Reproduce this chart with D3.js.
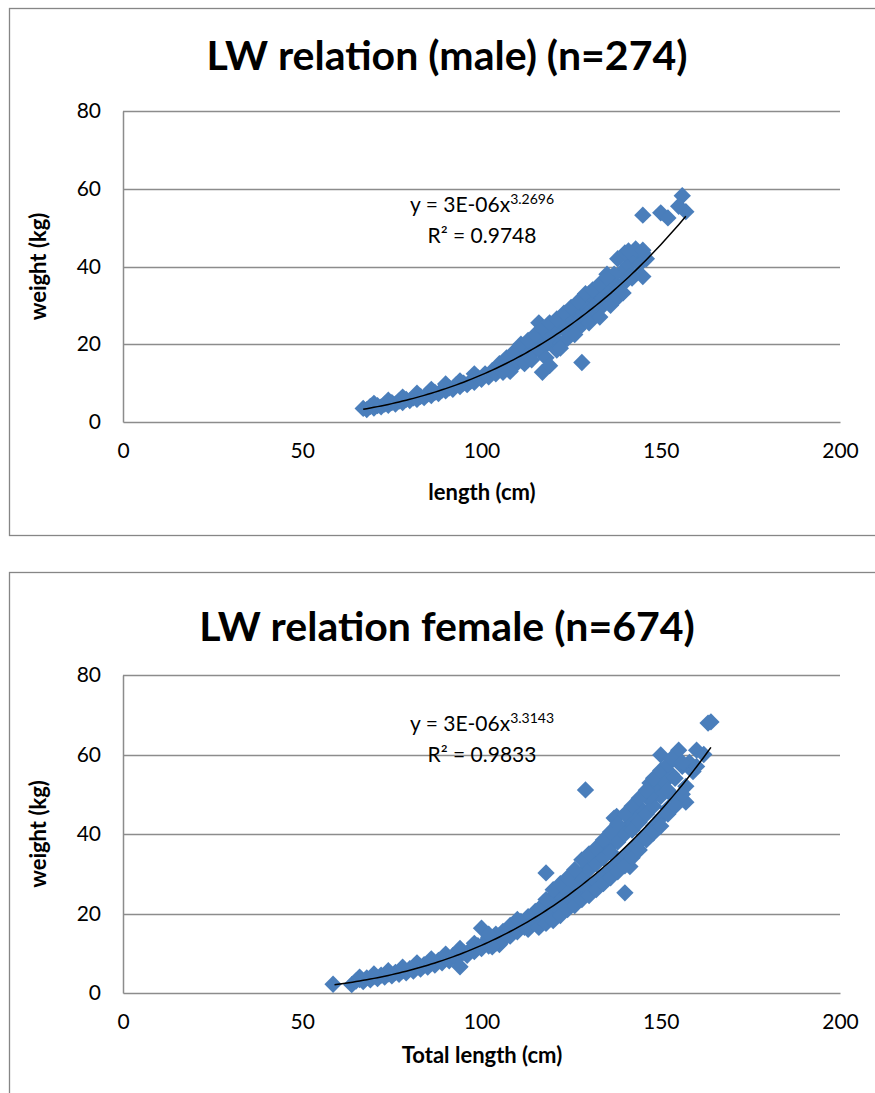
<!DOCTYPE html>
<html>
<head>
<meta charset="utf-8">
<script src="https://cdn.jsdelivr.net/npm/d3@7"></script>
<style>
  body { margin: 0; background: #fff; }
  svg { display: block; font-family: Lato, "Open Sans", sans-serif; }
</style>
</head>
<body>
<script>
// male data (length cm, weight kg)
const maleLength = [67, 68, 69, 70, 71, 72, 73, 74, 75, 76, 77, 78, 79, 80, 81, 82, 83, 84, 85, 86,
  87, 88, 89, 90, 91, 92, 93, 94, 95, 96, 97, 98, 99, 100, 101, 102, 103, 104, 105, 106,
  107, 108, 109, 110, 111, 112, 113, 114, 115, 116, 117, 118, 119, 120, 121, 122, 123, 124, 125, 126,
  127, 128, 129, 130, 131, 132, 133, 134, 135, 136, 137, 138, 139, 140, 141, 142, 143, 144, 145, 146,
  112, 116, 118, 120, 124, 128, 130, 132, 135, 137, 138, 140, 141, 143, 145,
  118, 121, 124, 127, 130, 133, 136, 138, 139.5, 142, 145,
  105, 107, 109, 111, 113, 115, 117, 119, 121, 123, 125, 127, 129, 131, 133, 135,
  108, 112, 114, 122, 126,
  70, 74, 78, 82, 86, 90, 94, 98,
  117, 119, 128, 145, 150, 152, 156, 157, 155];
const maleWeight = [3.5, 3.2, 4.0, 3.6, 4.2, 3.9, 4.6, 4.3, 5.0, 4.6, 5.4, 5.0, 5.8, 5.5, 6.2, 5.8, 6.6, 6.3, 7.2, 6.8,
  7.6, 7.3, 8.2, 8.0, 8.8, 8.4, 9.6, 9.1, 10.0, 9.6, 10.5, 10.2, 11.4, 11.0, 12.4, 11.6, 13.2, 12.4, 14.0, 12.8,
  15.2, 13.9, 17.0, 15.2, 18.6, 16.3, 19.2, 17.5, 20.2, 18.6, 21.3, 19.8, 22.5, 21.0, 23.6, 20.2, 25.0, 22.8, 26.4, 24.0,
  28.0, 25.5, 29.6, 27.0, 31.0, 28.5, 32.5, 30.0, 34.0, 31.8, 36.0, 34.0, 38.5, 36.0, 40.5, 38.0, 42.0, 40.5, 43.5, 42.0,
  19.0, 25.5, 23.0, 25.0, 28.0, 31.0, 33.0, 34.5, 38.0, 38.0, 42.0, 43.5, 44.0, 44.5, 44.2,
  16.5, 18.5, 21.5, 24.0, 25.5, 27.0, 30.0, 32.0, 33.2, 37.0, 37.4,
  15.0, 16.5, 18.0, 20.0, 21.0, 22.5, 24.0, 25.5, 26.5, 28.0, 29.5, 31.0, 33.0, 34.0, 35.5, 37.0,
  13.0, 15.0, 16.0, 19.0, 22.5,
  4.8, 5.6, 6.4, 7.4, 8.4, 9.8, 10.6, 12.4,
  12.8, 14.5, 15.3, 53.2, 53.8, 52.5, 58.2, 54.1, 55.5];

// female data (length cm, weight kg)
const femaleLength = [58.6, 63.8, 65, 66, 67, 68, 69, 70, 71, 72, 73, 74, 75, 76, 77, 78, 79, 80, 81, 82,
  83, 84, 85, 86, 87, 88, 89, 90, 91, 92, 93, 94, 95, 96, 97, 98, 99, 100, 100, 101,
  102, 103, 104, 105, 106, 107, 108, 109, 110, 111, 112, 113, 114, 115, 116, 117, 118, 118, 119, 120,
  121, 122, 123, 124, 125, 126, 127, 128, 129, 129, 130, 131, 132, 133, 134, 135, 136, 137, 137, 138,
  139, 140, 140, 141, 142, 143, 144, 145, 146, 147, 148, 149, 150, 150, 151, 152, 153, 154, 155, 156,
  157, 158, 159, 160, 163.2, 164,
  120, 122, 124, 126, 128, 130, 132, 134, 136, 138, 140, 142, 144, 146, 148, 150, 152, 154, 147, 147,
  137.7, 141.4, 147.9, 157, 160, 162, 108, 113, 115, 117, 119, 121, 123, 125, 127, 110, 106, 104, 102, 105, 103,
  116, 118, 120, 122, 124, 126, 128, 130, 132, 134, 136, 138, 140, 142, 144, 146, 148, 150, 152, 153, 156,
  116, 118, 120, 122, 124, 126, 128, 130, 132, 134, 136, 138, 140, 142, 144, 146, 148, 150, 152, 154, 156,
  66, 70, 74, 78, 82, 86, 90, 94, 98, 102];
const femaleWeight = [2.2, 2.1, 3.0, 3.4, 2.9, 3.8, 3.3, 4.2, 3.6, 4.5, 4.0, 4.8, 4.3, 5.2, 4.7, 5.6, 5.1, 6.1, 5.5, 6.6,
  6.0, 7.1, 6.5, 7.6, 7.0, 8.2, 7.6, 8.8, 8.1, 9.4, 8.7, 6.6, 10.2, 9.5, 11.0, 10.4, 11.9, 16.3, 11.2, 12.8,
  11.8, 13.6, 12.5, 14.5, 13.3, 15.6, 14.3, 16.8, 15.4, 18.0, 16.5, 19.2, 17.5, 20.5, 18.5, 22.0, 19.5, 30.2, 23.5, 20.5,
  25.0, 21.5, 26.5, 22.8, 28.0, 24.0, 29.5, 25.5, 31.0, 51.1, 26.5, 33.0, 28.0, 34.5, 29.5, 36.0, 31.0, 38.0, 44.0, 33.0,
  40.0, 34.5, 25.2, 42.0, 36.0, 44.0, 38.0, 46.0, 40.0, 48.5, 42.0, 51.0, 44.0, 59.9, 53.0, 46.5, 55.0, 49.0, 61.1, 57.0,
  52.0, 58.0, 55.7, 61.1, 67.9, 68.2,
  24.0, 23.5, 25.5, 27.5, 29.0, 31.0, 32.5, 34.0, 35.5, 38.0, 40.0, 41.0, 43.0, 45.0, 47.0, 49.5, 51.0, 54.0, 52.8, 49.5,
  44.4, 31.8, 40.2, 48.0, 57.0, 60.0, 17.0, 16.0, 18.0, 19.0, 20.0, 21.5, 22.0, 23.5, 25.0, 18.5, 15.5, 14.8, 14.0, 12.2, 11.6,
  21.0, 23.5, 26.0, 27.5, 29.0, 31.0, 33.5, 35.0, 36.5, 38.5, 40.5, 42.5, 45.0, 47.0, 49.0, 51.0, 54.0, 56.0, 57.5, 59.0, 58.0,
  16.5, 17.5, 18.2, 19.5, 21.0, 22.0, 23.5, 24.5, 26.0, 27.5, 29.0, 30.5, 32.0, 34.0, 36.0, 38.5, 40.5, 42.0, 45.0, 47.0, 50.0,
  4.0, 4.8, 5.6, 6.5, 7.6, 8.6, 9.8, 11.2, 12.5, 14.8];

// power trendlines y = a * x^b (a tuned to the drawn curve, b from the label)
const maleTrend = { a: 3.5e-6, b: 3.2696, from: 67, to: 157 };
const femaleTrend = { a: 2.82e-6, b: 3.3143, from: 59, to: 164 };

const xTicks = [0, 50, 100, 150, 200];
const yTicks = [0, 20, 40, 60, 80];

const W = 875, H = 1093;
const svg = d3.select("body").append("svg").attr("width", W).attr("height", H);

function drawPanel(cfg) {
  const g = svg.append("g");
  // chart frame (runs off the right / bottom of the picture)
  g.append("rect")
    .attr("x", 9.5).attr("y", cfg.frameTop + 0.5)
    .attr("width", 900).attr("height", cfg.frameH)
    .attr("fill", "#fff").attr("stroke", "#868686").attr("stroke-width", 1.3);

  const x = d3.scaleLinear().domain([0, 200]).range([123, 840]);
  const y = d3.scaleLinear().domain([0, 80]).range([cfg.plotBottom, cfg.plotTop]);

  // gridlines
  g.append("g").selectAll("line").data(yTicks.slice(1)).join("line")
    .attr("x1", x(0)).attr("x2", x(200))
    .attr("y1", d => Math.round(y(d)) + 0.5).attr("y2", d => Math.round(y(d)) + 0.5)
    .attr("stroke", "#8c8c8c").attr("stroke-width", 1.3);

  // axes
  const yAxis = g.append("g").attr("transform", `translate(${x(0)},0)`)
    .call(d3.axisLeft(y).tickValues(yTicks).tickSize(0).tickPadding(22));
  const xAxis = g.append("g").attr("transform", `translate(0,${y(0)})`)
    .call(d3.axisBottom(x).tickValues(xTicks).tickSize(0).tickPadding(21));
  [xAxis, yAxis].forEach(a => {
    a.select(".domain").attr("stroke", "#8c8c8c").attr("stroke-width", 1.5);
    a.selectAll("text").attr("font-family", "Lato, sans-serif")
      .attr("font-size", 21).attr("fill", "#000");
  });

  // points
  const pts = cfg.len.map((l, i) => [l, cfg.wt[i]]);
  const diamond = d3.symbol(d3.symbolSquare, 150);
  g.append("g").selectAll("path").data(pts).join("path")
    .attr("d", diamond)
    .attr("transform", d => `translate(${x(d[0])},${y(d[1])}) rotate(45)`)
    .attr("fill", "#4a7ebb");

  // trendline
  const t = cfg.trend;
  const tx = d3.range(t.from, t.to + 0.01, 1);
  g.append("path")
    .datum(tx.map(v => [v, t.a * Math.pow(v, t.b)]))
    .attr("d", d3.line().x(d => x(d[0])).y(d => y(d[1])).curve(d3.curveMonotoneX))
    .attr("fill", "none").attr("stroke", "#000").attr("stroke-width", 1.5);

  // title
  g.append("text").attr("x", 447).attr("y", cfg.titleY)
    .attr("text-anchor", "middle").attr("font-size", 41).attr("font-weight", "bold")
    .text(cfg.title);

  // axis titles
  g.append("text").attr("x", 482).attr("y", cfg.xTitleY)
    .attr("text-anchor", "middle").attr("font-size", 22).attr("font-weight", "bold")
    .text(cfg.xTitle);
  g.append("text")
    .attr("transform", `translate(46,${(cfg.plotTop + cfg.plotBottom) / 2}) rotate(-90)`)
    .attr("text-anchor", "middle").attr("font-size", 22).attr("font-weight", "bold")
    .text("weight (kg)");

  // equation label
  const eq = g.append("text").attr("x", cfg.eqX).attr("y", cfg.eqY)
    .attr("text-anchor", "middle").attr("font-size", 21);
  eq.append("tspan").text("y = 3E-06x");
  eq.append("tspan").attr("dy", -8).attr("font-size", 14).text(cfg.exp);
  g.append("text").attr("x", cfg.eqX).attr("y", cfg.eqY + 31)
    .attr("text-anchor", "middle").attr("font-size", 21)
    .text("R² = " + cfg.r2);
}

drawPanel({
  frameTop: 8, frameH: 527, plotTop: 111, plotBottom: 422,
  title: "LW relation (male) (n=274)", titleY: 70,
  xTitle: "length (cm)", xTitleY: 500,
  len: maleLength, wt: maleWeight, trend: maleTrend,
  exp: "3.2696", r2: "0.9748", eqX: 482, eqY: 212
});

drawPanel({
  frameTop: 572, frameH: 600, plotTop: 675, plotBottom: 993,
  title: "LW relation female (n=674)", titleY: 641,
  xTitle: "Total length (cm)", xTitleY: 1063,
  len: femaleLength, wt: femaleWeight, trend: femaleTrend,
  exp: "3.3143", r2: "0.9833", eqX: 482, eqY: 731
});
</script>
</body>
</html>
